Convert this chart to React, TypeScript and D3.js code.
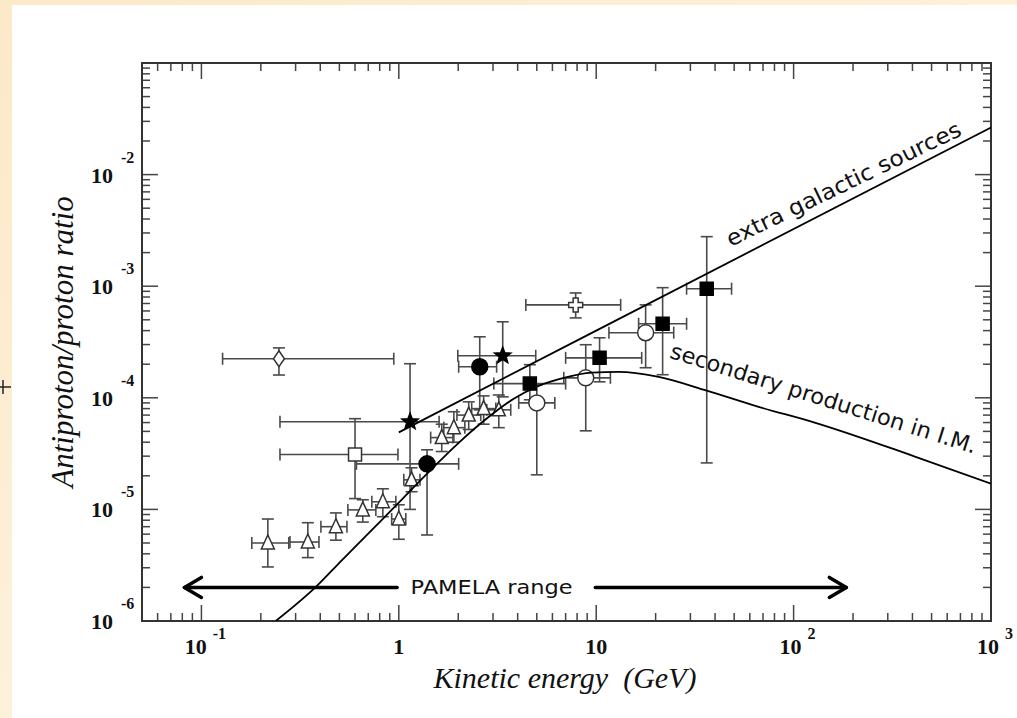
import React from "react";
import * as d3 from "d3";

// each point: [energy GeV, ratio, energyLo, energyHi, ratioLo, ratioHi]
type Pt = [number, number, number, number, number, number];

const openTriangles: Pt[] = [
  [0.217, 5.0e-6, 0.18, 0.277, 3.05e-6, 8.2e-6],
  [0.346, 5.1e-6, 0.281, 0.394, 3.7e-6, 7.6e-6],
  [0.48, 7.0e-6, 0.403, 0.546, 5.3e-6, 9.3e-6],
  [0.657, 9.9e-6, 0.552, 0.765, 7.7e-6, 1.22e-5],
  [0.83, 1.17e-5, 0.73, 0.966, 8.6e-6, 1.53e-5],
  [1.0, 8.2e-6, 0.92, 1.085, 5.4e-6, 1.1e-5],
  [1.16, 1.84e-5, 1.06, 1.28, 1.44e-5, 2.36e-5],
  [1.65, 4.4e-5, 1.45, 1.88, 3.3e-5, 5.8e-5],
  [1.9, 5.4e-5, 1.69, 2.16, 4.0e-5, 7.5e-5],
  [2.26, 7.0e-5, 1.97, 2.6, 5.2e-5, 9.2e-5],
  [2.69, 8.0e-5, 2.34, 3.1, 5.8e-5, 1.04e-4],
  [3.21, 7.8e-5, 2.79, 3.69, 5.4e-5, 1.06e-4],
];
const openDiamonds: Pt[] = [[0.247, 2.24e-4, 0.128, 0.943, 1.6e-4, 2.8e-4]];
const openSquares: Pt[] = [[0.6, 3.1e-5, 0.25, 0.99, 1.25e-5, 6.5e-5]];
const stars: Pt[] = [
  [1.14, 6.1e-5, 0.25, 1.6, 1.0e-5, 2.02e-4],
  [3.36, 2.38e-4, 1.99, 4.94, 1.02e-4, 4.8e-4],
];
const filledCircles: Pt[] = [
  [2.57, 1.9e-4, 2.01, 3.13, 7.8e-5, 3.52e-4],
  [1.39, 2.56e-5, 0.61, 2.01, 5.9e-6, 3.42e-5],
];
const filledSquares: Pt[] = [
  [4.61, 1.34e-4, 3.03, 7.0, 9.6e-5, 1.98e-4],
  [10.4, 2.28e-4, 7.0, 17.0, 1.39e-4, 3.45e-4],
  [21.7, 4.61e-4, 16.4, 28.7, 1.61e-4, 9.7e-4],
  [36.3, 9.5e-4, 28.7, 48.5, 2.61e-5, 2.78e-3],
];
const openCircles: Pt[] = [
  [5.0, 9.0e-5, 4.05, 6.17, 2.04e-5, 1.31e-4],
  [8.85, 1.51e-4, 6.85, 11.8, 5.06e-5, 2.99e-4],
  [17.8, 3.83e-4, 11.6, 24.7, 1.86e-4, 6.8e-4],
];
const openCrosses: Pt[] = [[7.87, 6.8e-4, 4.4, 13.3, 5.2e-4, 8.7e-4]];

// model curves [energy, ratio]
const extraGalactic: [number, number][] = [
  [1, 4.9e-5],
  [10, 4.0e-4],
  [1000, 2.64e-2],
];
const secondary: [number, number][] = [
  [0.238, 1.0e-6], [0.38, 2.02e-6], [0.514, 3.5e-6], [0.84, 8.4e-6],
  [1.42, 2.17e-5], [2.01, 3.95e-5], [2.86, 6.76e-5], [3.82, 9.8e-5],
  [5.11, 1.28e-4], [6.85, 1.51e-4], [9.49, 1.68e-4], [13.0, 1.71e-4],
  [20.7, 1.54e-4], [36.3, 1.16e-4], [66.5, 8.3e-5], [129, 5.97e-5],
  [415, 2.96e-5], [1000, 1.7e-5],
];

// PAMELA range arrow: [from, gapStart, gapEnd, to] in GeV, at ratio level
const pamelaRange = [0.082, 0.98, 9.9, 185];
const pamelaLevel = 2.0e-6;

const xTickLabels = [
  { v: 0.1, base: "10", exp: "-1" },
  { v: 1, base: "1", exp: "" },
  { v: 10, base: "10", exp: "" },
  { v: 100, base: "10", exp: "2" },
  { v: 1000, base: "10", exp: "3" },
];
const yTickLabels = [
  { v: 1e-6, exp: "-6" },
  { v: 1e-5, exp: "-5" },
  { v: 1e-4, exp: "-4" },
  { v: 1e-3, exp: "-3" },
  { v: 1e-2, exp: "-2" },
];

const W = 1017;
const H = 718;
const plot = { left: 142, right: 991, top: 63, bottom: 621 };

const isDecade = (v: number) => Math.abs(Math.log10(v) - Math.round(Math.log10(v))) < 1e-6;

function starPath(R: number, r: number) {
  const pts: string[] = [];
  for (let i = 0; i < 10; i++) {
    const a = -Math.PI / 2 + (i * Math.PI) / 5;
    const rad = i % 2 === 0 ? R : r;
    pts.push(`${(rad * Math.cos(a)).toFixed(2)},${(rad * Math.sin(a)).toFixed(2)}`);
  }
  return "M" + pts.join("L") + "Z";
}

const markerPaths: Record<string, string> = {
  triangle: "M0,-8L6.5,6L-6.5,6Z",
  diamond: "M0,-8L5.5,0L0,8L-5.5,0Z",
  square: "M-6.5,-6.5H6.5V6.5H-6.5Z",
  star: starPath(8.5, 3.6),
  cross: "M-2.5,-7H2.5V-2.5H7V2.5H2.5V7H-2.5V2.5H-7V-2.5H-2.5Z",
};

export default function App() {
  const x = d3.scaleLog().domain([0.05, 1000]).range([plot.left, plot.right]);
  const y = d3.scaleLog().domain([1e-6, 1e-1]).range([plot.bottom, plot.top]);

  const line = d3
    .line<[number, number]>()
    .x((d) => x(d[0]))
    .y((d) => y(d[1]))
    .curve(d3.curveMonotoneX);

  const xt = x.ticks();
  const yt = y.ticks();

  const cap = 6;
  const errColor = "#4a4a4a";

  const errorBars = (pts: Pt[], key: string) =>
    pts.map((p, i) => {
      const cx = x(p[0]);
      const cy = y(p[1]);
      const x0 = x(p[2]);
      const x1 = x(p[3]);
      const y0 = y(p[4]);
      const y1 = y(p[5]);
      return (
        <g key={key + i} stroke={errColor} strokeWidth={1.6} fill="none">
          <line x1={x0} x2={x1} y1={cy} y2={cy} />
          <line x1={x0} x2={x0} y1={cy - cap} y2={cy + cap} />
          <line x1={x1} x2={x1} y1={cy - cap} y2={cy + cap} />
          <line x1={cx} x2={cx} y1={y0} y2={y1} />
          <line x1={cx - cap} x2={cx + cap} y1={y0} y2={y0} />
          <line x1={cx - cap} x2={cx + cap} y1={y1} y2={y1} />
        </g>
      );
    });

  const markers = (pts: Pt[], key: string, shape: string, filled: boolean) =>
    pts.map((p, i) => {
      const cx = x(p[0]);
      const cy = y(p[1]);
      const fill = filled ? "#000" : "#fff";
      const stroke = filled ? "#000" : "#333";
      if (shape === "circle")
        return <circle key={key + i} cx={cx} cy={cy} r={8} fill={fill} stroke={stroke} strokeWidth={1.5} />;
      return (
        <path
          key={key + i}
          d={markerPaths[shape]}
          transform={`translate(${cx},${cy})`}
          fill={fill}
          stroke={stroke}
          strokeWidth={1.5}
          strokeLinejoin="miter"
        />
      );
    });

  const ay = y(pamelaLevel);
  const ax = pamelaRange.map((v) => x(v));

  const egStart = [x(48), y(2.25e-3)];
  const secStart = [x(23.3), y(2.3e-4)];

  return (
    <svg
      width={W}
      height={H}
      style={{ position: "absolute", left: 0, top: 0, display: "block" }}
    >
      <defs>
        <clipPath id="plotClip">
          <rect x={plot.left} y={plot.top} width={plot.right - plot.left} height={plot.bottom - plot.top} />
        </clipPath>
        <linearGradient id="parch" x1="0" y1="0" x2="1" y2="1">
          <stop offset="0" stopColor="#fbe9c8" />
          <stop offset="0.5" stopColor="#fdf1da" />
          <stop offset="1" stopColor="#fbecd0" />
        </linearGradient>
      </defs>
      <rect x={0} y={0} width={W} height={H} fill="url(#parch)" />
      <rect x={12} y={5} width={W - 12} height={H - 5} fill="#ffffff" />

      {/* small cross at left edge */}
      <g stroke="#222" strokeWidth={1.5}>
        <line x1={0} x2={11} y1={387} y2={387} />
        <line x1={3} x2={3} y1={380} y2={394} />
      </g>

      {/* ticks */}
      <g stroke="#444" strokeWidth={1.5}>
        {xt.map((t, i) => {
          const len = isDecade(t) ? 16 : 8;
          const px = x(t);
          if (px <= plot.left + 1 || px >= plot.right - 1) return null;
          return (
            <g key={"xt" + i}>
              <line x1={px} x2={px} y1={plot.bottom} y2={plot.bottom - len} />
              <line x1={px} x2={px} y1={plot.top} y2={plot.top + len} />
            </g>
          );
        })}
        {yt.map((t, i) => {
          const len = isDecade(t) ? 16 : 8;
          const py = y(t);
          if (py >= plot.bottom - 1 || py <= plot.top + 1) return null;
          return (
            <g key={"yt" + i}>
              <line x1={plot.left} x2={plot.left + len} y1={py} y2={py} />
              <line x1={plot.right} x2={plot.right - len} y1={py} y2={py} />
            </g>
          );
        })}
      </g>
      <rect
        x={plot.left}
        y={plot.top}
        width={plot.right - plot.left}
        height={plot.bottom - plot.top}
        fill="none"
        stroke="#333"
        strokeWidth={2}
      />

      {/* tick labels */}
      <g fontFamily="'Liberation Serif', 'Times New Roman', serif" fontWeight="bold" fill="#111">
        {xTickLabels.map((d, i) =>
          d.exp ? (
            <text key={"xl" + i} x={x(d.v) + 4} y={654} fontSize={22} textAnchor="middle">
              {d.base}
              <tspan dx={6} dy={-15} fontSize={16}>
                {d.exp}
              </tspan>
            </text>
          ) : (
            <text key={"xl" + i} x={x(d.v)} y={654} fontSize={22} textAnchor="middle">
              {d.base}
            </text>
          )
        )}
        {yTickLabels.map((d, i) => (
          <g key={"yl" + i}>
            <text x={113} y={y(d.v) + 8} fontSize={22} textAnchor="end">
              10
            </text>
            <text x={121} y={y(d.v) - 12} fontSize={16}>
              {d.exp}
            </text>
          </g>
        ))}
      </g>

      {/* axis titles */}
      <text
        x={565}
        y={688}
        textAnchor="middle"
        fontFamily="'Liberation Serif', 'Times New Roman', serif"
        fontStyle="italic"
        fontSize={30}
        fill="#111"
        style={{ whiteSpace: "pre" }}
      >
        {"Kinetic energy  (GeV)"}
      </text>
      <text
        transform={`translate(73,342) rotate(-90)`}
        textAnchor="middle"
        fontFamily="'Liberation Serif', 'Times New Roman', serif"
        fontStyle="italic"
        fontSize={31}
        fill="#111"
      >
        Antiproton/proton ratio
      </text>

      {/* error bars */}
      <g>
        {errorBars(openTriangles, "tri")}
        {errorBars(openDiamonds, "dia")}
        {errorBars(openSquares, "osq")}
        {errorBars(stars, "star")}
        {errorBars(filledCircles, "fc")}
        {errorBars(filledSquares, "fsq")}
        {errorBars(openCircles, "oc")}
        {errorBars(openCrosses, "cr")}
      </g>
      {/* markers */}
      <g>
        {markers(openTriangles, "mtri", "triangle", false)}
        {markers(openDiamonds, "mdia", "diamond", false)}
        {markers(openSquares, "mosq", "square", false)}
        {markers(openCircles, "moc", "circle", false)}
        {markers(openCrosses, "mcr", "cross", false)}
        {markers(filledCircles, "mfc", "circle", true)}
        {markers(filledSquares, "mfsq", "square", true)}
        {markers(stars, "mstar", "star", true)}
      </g>

      {/* model curves */}
      <g clipPath="url(#plotClip)" fill="none" stroke="#000" strokeWidth={1.8}>
        <path d={line(extraGalactic) ?? ""} />
        <path d={line(secondary) ?? ""} />
      </g>

      {/* curve labels */}
      <g fontFamily="'DejaVu Sans', 'Open Sans', sans-serif" fill="#111" fontSize={22}>
        <text
          transform={`translate(${egStart[0]},${egStart[1]}) rotate(-25.8)`}
          textLength={258}
          lengthAdjust="spacingAndGlyphs"
        >
          extra galactic sources
        </text>
        <text
          transform={`translate(${secStart[0]},${secStart[1]}) rotate(17.5)`}
          textLength={320}
          lengthAdjust="spacingAndGlyphs"
        >
          secondary production in I.M.
        </text>
      </g>

      {/* PAMELA range arrow */}
      <g stroke="#000" strokeWidth={3.5} fill="none" strokeLinecap="round" strokeLinejoin="round">
        <line x1={ax[0]} x2={ax[1]} y1={ay} y2={ay} />
        <line x1={ax[2]} x2={ax[3]} y1={ay} y2={ay} />
        <path d={`M${ax[0] + 17},${ay - 10}L${ax[0]},${ay}L${ax[0] + 17},${ay + 10}`} />
        <path d={`M${ax[3] - 17},${ay - 10}L${ax[3]},${ay}L${ax[3] - 17},${ay + 10}`} />
      </g>
      <text
        x={x(2.95)}
        y={ay + 7}
        textAnchor="middle"
        fontFamily="'DejaVu Sans', 'Open Sans', sans-serif"
        fontSize={20}
        fill="#111"
        textLength={162}
        lengthAdjust="spacingAndGlyphs"
      >
        PAMELA range
      </text>
    </svg>
  );
}
